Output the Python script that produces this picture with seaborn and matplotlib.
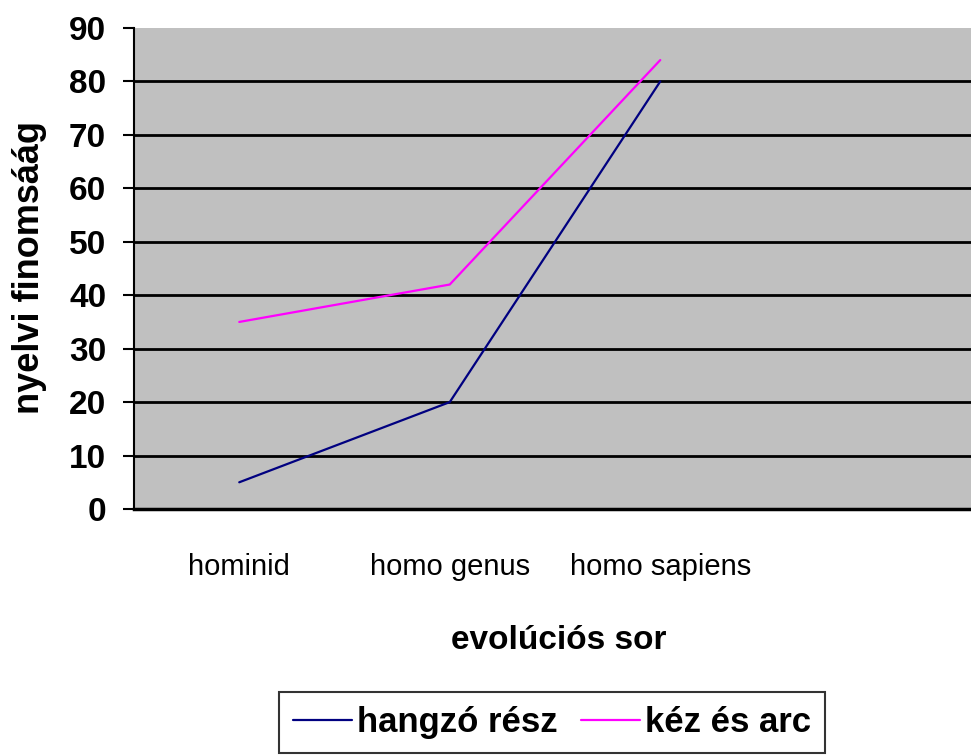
import numpy as np
import pandas as pd
import matplotlib
matplotlib.use('Agg')
import matplotlib.pyplot as plt
import seaborn as sns

# adatok
kategoriak = ['hominid', 'homo genus', 'homo sapiens']
hangzo_resz = [5, 20, 80]
kez_es_arc = [35, 42, 84]
sorozatok = ['hangzó rész', 'kéz és arc']
szinek = ['#000080', '#FF00FF']

df = pd.DataFrame({
    'x': list(np.arange(len(kategoriak))) * 2,
    'ertek': hangzo_resz + kez_es_arc,
    'sorozat': [sorozatok[0]] * len(kategoriak) + [sorozatok[1]] * len(kategoriak),
})

sns.set_style('white')
plt.rcParams['font.family'] = ['Liberation Sans', 'DejaVu Sans']
plt.rcParams['text.color'] = 'black'
plt.rcParams['axes.labelcolor'] = 'black'
plt.rcParams['xtick.color'] = 'black'
plt.rcParams['ytick.color'] = 'black'

fig = plt.figure(figsize=(9.71, 7.56), dpi=100)
ax = fig.add_axes([134 / 971, 1 - 509 / 756, 842 / 971, 481 / 756])
ax.set_facecolor('#C0C0C0')

sns.lineplot(data=df, x='x', y='ertek', hue='sorozat', palette=szinek,
             linewidth=1.6, ax=ax, legend=True)

ax.set_xlim(-0.5, 3.5)
ax.set_ylim(0, 90)
ax.set_yticks(range(0, 91, 10))
ax.set_xticks(range(len(kategoriak)))
ax.set_xticklabels(kategoriak, fontsize=21)
ax.tick_params(axis='x', bottom=False, length=0, pad=32)
ax.tick_params(axis='y', left=True, length=8, width=1.5, color='black',
               direction='out', labelsize=24, pad=12)
for t in ax.get_yticklabels():
    t.set_fontweight('bold')

ax.yaxis.grid(True, color='black', linewidth=2)
ax.get_ygridlines()[-1].set_visible(False)
ax.set_axisbelow(True)

for s in ['top', 'right']:
    ax.spines[s].set_visible(False)
ax.spines['left'].set_color('black')
ax.spines['left'].set_linewidth(1.5)
ax.spines['bottom'].set_color('black')
ax.spines['bottom'].set_linewidth(2.5)

ax.set_ylabel('nyelvi finomsáág', fontsize=26, fontweight='bold')
ax.yaxis.set_label_coords(-(134 - 47) / 842, (509 - 268) / 481)
ax.set_xlabel('evolúciós sor', fontsize=24, fontweight='bold')
ax.xaxis.set_label_coords((559 - 134) / 842, -(625 - 509) / 481)

# jelmagyarázat
h, l = ax.get_legend_handles_labels()
ax.get_legend().remove()
leg = fig.legend(h, l, loc='upper center', bbox_to_anchor=(552 / 971, 1 - 692 / 756),
                 ncol=2, frameon=True, fancybox=False, edgecolor='black',
                 prop={'size': 25, 'weight': 'bold'}, handlelength=1.7,
                 handletextpad=0.15, columnspacing=0.65, borderpad=0.4,
                 borderaxespad=0)
leg.get_frame().set_linewidth(1.5)

plt.savefig('out.png', dpi=100)
